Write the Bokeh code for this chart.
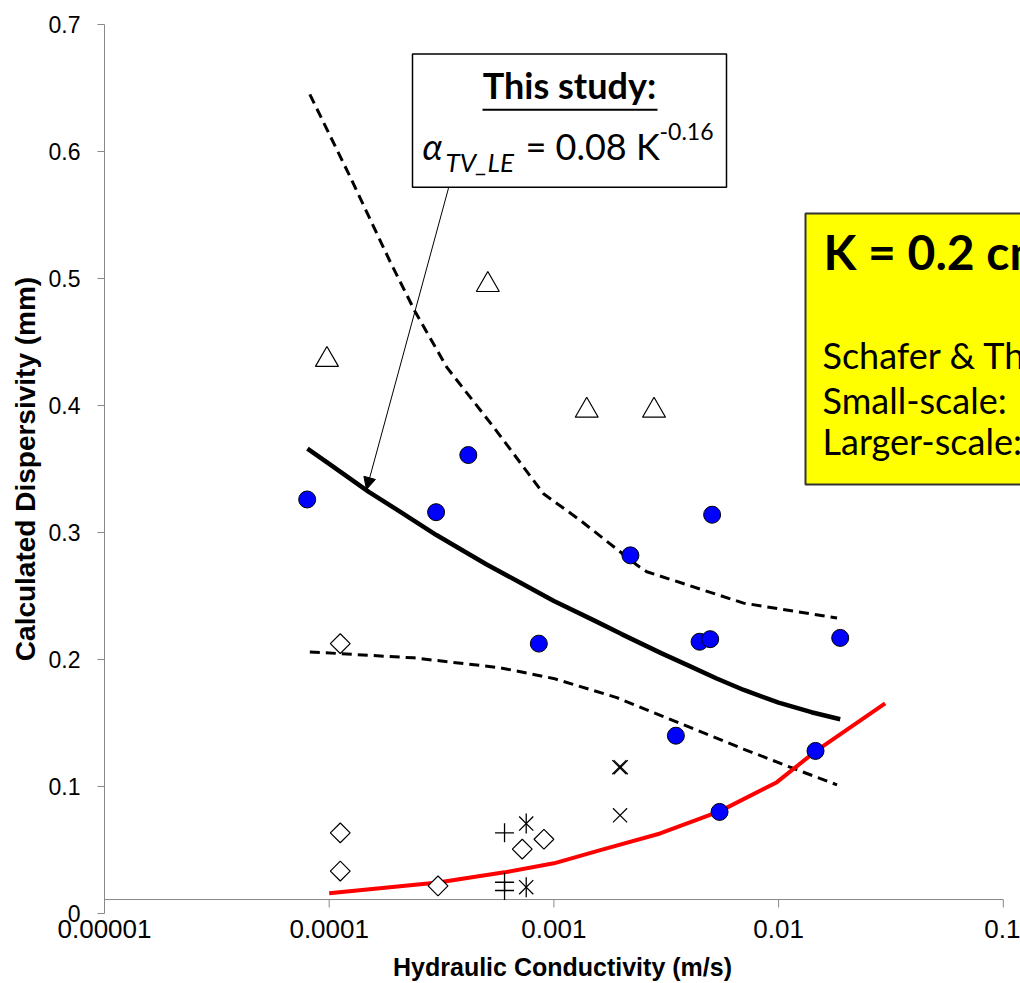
import numpy as np
from bokeh.plotting import figure
from bokeh.models import (Range1d, FixedTicker, CustomJSTickFormatter, BoxAnnotation,
                          Label, Arrow, NormalHead)
from bokeh.embed import file_html
from bokeh.resources import INLINE

# ---------------- data ----------------
x_ticks = [1e-5, 1e-4, 1e-3, 1e-2, 1e-1]
x_tick_labels = ["0.00001", "0.0001", "0.001", "0.01", "0.1"]
y_ticks = [0.0, 0.1, 0.2, 0.3, 0.4, 0.5, 0.6, 0.7]
y_tick_labels = ["0", "0.1", "0.2", "0.3", "0.4", "0.5", "0.6", "0.7"]

# this study (blue circles)
study_K = [7.98e-5, 2.99e-4, 4.16e-4, 8.57e-4, 2.19e-3, 5.06e-3, 4.45e-3, 4.96e-3,
           1.88e-2, 3.49e-3, 1.46e-2, 5.46e-3]
study_a = [0.326, 0.316, 0.361, 0.2125, 0.282, 0.314, 0.214, 0.216,
           0.217, 0.140, 0.128, 0.080]

# other data sets
tri_K = [9.77e-5, 5.08e-4, 1.40e-3, 2.79e-3]
tri_a = [0.436, 0.495, 0.396, 0.396]

dia_K = [1.12e-4, 1.12e-4, 1.12e-4, 3.05e-4, 7.23e-4, 9.03e-4]
dia_a = [0.2125, 0.0635, 0.0334, 0.0217, 0.0507, 0.0585]

plus_K = [6.03e-4, 6.03e-4, 6.03e-4]
plus_a = [0.0635, 0.0246, 0.0181]

star_K = [7.53e-4, 7.53e-4]
star_a = [0.0708, 0.0207]

x_K = [1.955e-3, 1.985e-3, 1.97e-3]
x_a = [0.1152, 0.1152, 0.0773]

# fitted power law and its bounds
fit_K = [8.0e-5, 1.0e-4, 1.5e-4, 2.0e-4, 3.0e-4, 4.0e-4, 5.0e-4, 7.0e-4, 1.0e-3, 1.5e-3,
         2.0e-3, 3.0e-3, 4.0e-3, 5.3e-3, 7.0e-3, 1.0e-2, 1.4e-2, 1.88e-2]
fit_a = [0.366, 0.354, 0.332, 0.318, 0.298, 0.285, 0.275, 0.261, 0.246, 0.231,
         0.220, 0.205, 0.195, 0.185, 0.176, 0.166, 0.1585, 0.153]

upper_K = [8.2e-5, 1.24e-4, 1.87e-4, 2.41e-4, 3.34e-4, 5.39e-4, 8.99e-4, 1.31e-3,
           2.34e-3, 2.59e-3, 6.98e-3, 1.82e-2]
upper_a = [0.645, 0.580, 0.513, 0.474, 0.430, 0.383, 0.3305, 0.3096,
           0.2744, 0.2691, 0.2444, 0.2327]

lower_K = [8.2e-5, 2.37e-4, 5.77e-4, 9.95e-4, 1.905e-3, 4.04e-3, 6.98e-3, 1.126e-2, 1.82e-2]
lower_a = [0.206, 0.2013, 0.1935, 0.1851, 0.170, 0.1465, 0.1295, 0.1152, 0.1013]

red_K = [1.0e-4, 3.05e-4, 6.03e-4, 1.0e-3, 1.61e-3, 2.97e-3, 5.46e-3, 9.83e-3, 1.459e-2, 2.98e-2]
red_a = [0.016, 0.0244, 0.0324, 0.0395, 0.0499, 0.0630, 0.0804, 0.1034, 0.1277, 0.1655]

# ---------------- layout ----------------
W, H = 1020, 983
L, R, T, B = 104, 1020, 24, 915
XMIN, XMAX = 1e-5, 10 ** (-5 + (R - L) / 224.7)
YMIN, YMAX = 0.0, 0.7


def px2x(px):
    lo, hi = np.log10(XMIN), np.log10(XMAX)
    return 10 ** (lo + (px - L) / (R - L) * (hi - lo))


def py2y(py):
    return YMIN + (B - py) / (B - T) * (YMAX - YMIN)


AXIS_GRAY = "#898989"
ARIAL = "Liberation Sans"
CAL = "Lato"

p = figure(width=W, height=H, x_axis_type="log",
           x_range=Range1d(XMIN, XMAX), y_range=Range1d(YMIN, YMAX),
           output_backend="svg", toolbar_location=None,
           min_border_left=L, min_border_right=W - R, min_border_top=T,
           min_border_bottom=H - B)
p.outline_line_color = None
p.grid.visible = False
p.background_fill_color = "white"
p.border_fill_color = "white"

fmt_code = """
let best = 0, d = Infinity;
for (let k = 0; k < t.length; k++) {
  const dd = Math.abs(t[k] - tick);
  if (dd < d) { d = dd; best = k; }
}
return l[best];
"""

xa = p.xaxis[0]
xa.ticker = FixedTicker(ticks=x_ticks, minor_ticks=[])
xa.formatter = CustomJSTickFormatter(args=dict(t=x_ticks, l=x_tick_labels), code=fmt_code)
xa.axis_line_color = None
xa.major_tick_line_color = None
xa.minor_tick_line_color = None
xa.major_tick_in = 0
xa.major_tick_out = 0
xa.major_label_standoff = 6
xa.major_label_text_font = ARIAL
xa.major_label_text_font_size = "26px"
xa.major_label_text_color = "black"
xa.axis_label = "Hydraulic Conductivity (m/s)"
xa.axis_label_text_font = ARIAL
xa.axis_label_text_font_style = "bold"
xa.axis_label_text_font_size = "25px"
xa.axis_label_text_color = "black"
xa.axis_label_standoff = 12

ya = p.yaxis[0]
ya.ticker = FixedTicker(ticks=y_ticks, minor_ticks=[])
ya.formatter = CustomJSTickFormatter(args=dict(t=y_ticks, l=y_tick_labels), code=fmt_code)
ya.axis_line_color = AXIS_GRAY
ya.major_tick_line_color = AXIS_GRAY
ya.minor_tick_line_color = None
ya.major_tick_in = 0
ya.major_tick_out = 7
ya.major_label_standoff = 17
ya.major_label_text_font = ARIAL
ya.major_label_text_font_size = "23px"
ya.major_label_text_color = "black"
ya.axis_label = "Calculated Dispersivity (mm)"
ya.axis_label_text_font = ARIAL
ya.axis_label_text_font_style = "bold"
ya.axis_label_text_font_size = "28px"
ya.axis_label_text_color = "black"
ya.axis_label_standoff = 5

# horizontal axis line (crosses slightly above zero, as in the original)
axis_y = py2y(901)
tick_y = py2y(909)
p.line(x=[x_ticks[0], x_ticks[-1]], y=[axis_y, axis_y], line_color=AXIS_GRAY, line_width=1)
p.segment(x0=x_ticks, y0=[axis_y] * len(x_ticks), x1=x_ticks, y1=[tick_y] * len(x_ticks),
          line_color=AXIS_GRAY, line_width=1)

# curves
p.line(upper_K, upper_a, line_color="black", line_width=3, line_dash="10 6")
p.line(lower_K, lower_a, line_color="black", line_width=3, line_dash="10 6")
p.line(fit_K, fit_a, line_color="black", line_width=4.5)
p.line(red_K, red_a, line_color="#FF0000", line_width=4)

# markers
p.scatter(tri_K, tri_a, marker="triangle", size=23, fill_color="white",
          line_color="black", line_width=1.2)
p.scatter(dia_K, dia_a, marker="square", angle=np.pi / 4, size=14,
          fill_color="white", line_color="black", line_width=1.2)
p.scatter(plus_K, plus_a, marker="cross", size=19, line_color="black", line_width=1.3)
p.scatter(star_K, star_a, marker="x", size=20, line_color="black", line_width=1.3)
p.scatter(star_K, star_a, marker="dash", angle=np.pi / 2, size=20, line_color="black",
          line_width=1.3)
p.scatter(x_K, x_a, marker="x", size=20, line_color="black", line_width=1.2)
p.scatter(study_K, study_a, marker="circle", size=17, fill_color="#0000FF",
          line_color="black", line_width=1)

# arrow from the box to the fitted curve
p.add_layout(Arrow(end=NormalHead(size=12, fill_color="black", line_color="black"),
                   x_start=px2x(448), y_start=py2y(188), x_end=px2x(366), y_end=py2y(490),
                   line_color="black", line_width=1))


def label(px, base_py, text, fs, style="normal", align="left"):
    # base_py is the wanted baseline (pixels from top); compensate renderer offset
    p.add_layout(Label(x=px2x(px), y=py2y(base_py - 0.385 * fs), text=text, text_font=CAL,
                       text_font_style=style, text_font_size=f"{fs}px", text_align=align,
                       text_baseline="alphabetic", text_color="black"))


# "This study" box
p.add_layout(BoxAnnotation(left=px2x(412), right=px2x(726), top=py2y(53.5), bottom=py2y(187),
                           fill_color="white", fill_alpha=1, line_color="black",
                           line_alpha=1, line_width=1.5))
label(569, 98, "This study:", 36, style="bold", align="center")
p.add_layout(BoxAnnotation(left=px2x(482), right=px2x(657), top=py2y(108.5), bottom=py2y(110.5),
                           fill_color="black", fill_alpha=1, line_color=None))
label(422, 160, "α", 36, style="italic")
label(445, 172, "TV_LE", 26, style="italic")
label(525, 160, "= 0.08 K", 36)
label(659, 140, "-0.16", 23)

# yellow box (cut by the right edge, as in the original)
p.add_layout(BoxAnnotation(left=px2x(805), right=px2x(1200), top=py2y(213.5), bottom=py2y(485),
                           fill_color="#FFFF00", fill_alpha=1, line_color="#333333",
                           line_alpha=1, line_width=2))
label(823, 270, "K = 0.2 cm/s", 48, style="bold")
for txt, base in [("Schafer & Therrien", 369), ("Small-scale:", 414), ("Larger-scale:", 455)]:
    label(822, base, txt, 36)

open("out.html", "w").write(file_html(p, INLINE))
